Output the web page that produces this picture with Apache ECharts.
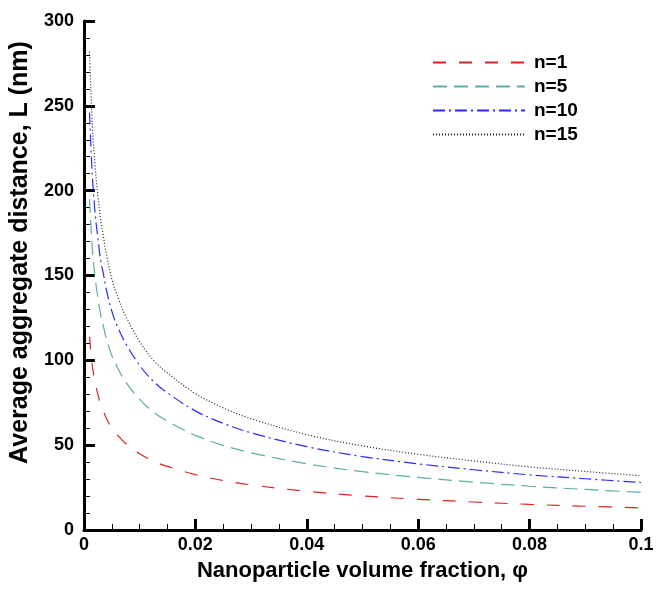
<!DOCTYPE html>
<html>
<head>
<meta charset="utf-8">
<script src="https://cdn.jsdelivr.net/npm/echarts@6/dist/echarts.min.js"></script>
<style>html,body{margin:0;padding:0;background:#fff}#c{width:657px;height:592px}</style>
</head>
<body>
<div id="c"></div>
<script>
var phi = [0.001,0.0015,0.002,0.0025,0.003,0.0035,0.004,0.005,0.006,0.0075,0.01,0.0125,0.015,0.02,0.025,0.03,0.04,0.05,0.06,0.07,0.08,0.09,0.1];
var n1  = [114,97,87,80,74,70,66,60,56,51,45,40.6,37.5,32.6,29.2,26.6,22.8,20.1,18.1,16.5,15.1,14.0,13.0];
var n5  = [195,166,149,137,127,120,113,103,95.8,87.2,77,69.4,64.1,55.8,49.9,45.5,39,34.4,31,28.2,25.8,23.9,22.2];
var n10 = [246,209,187,172,159,151,142,129,120,110,97,87.5,80.8,70.2,62.9,57.3,49.1,43.3,39,35.5,32.5,30.2,28];
var n15 = [282,239,215,197,183,173,163,148,138,126,111,100,92.5,80.4,72,65.6,56.2,49.6,44.6,40.7,37.2,34.5,32];
var seriesNames = ['n=1','n=5','n=10','n=15'];
var xTicks = {0:'0',0.02:'0.02',0.04:'0.04',0.06:'0.06',0.08:'0.08',0.1:'0.1'};

function pairs(ys){ return phi.map(function(x,i){return [x, ys[i]];}); }
var font = 'Liberation Sans, Arial, sans-serif';
var styles = [
  {color:'#dd2222', type:[13,13]},
  {color:'#5aaea8', type:[14,7]},
  {color:'#2a2aff', type:[12,4,2,4]},
  {color:'#222222', type:[1,2]}
];
var all = [n1,n5,n10,n15];
var chart = echarts.init(document.getElementById('c'), null, {renderer:'canvas'});
chart.setOption({
  animation:false,
  backgroundColor:'#fff',
  grid:{left:83, right:16, top:21, bottom:62, containLabel:false},
  legend:{
    orient:'vertical', left:427, top:48, itemWidth:92, itemHeight:14, itemGap:5,
    itemStyle:{opacity:0},
    textStyle:{fontFamily:font, fontWeight:'bold', fontSize:19, color:'#000', padding:[0,0,0,4]},
    data:seriesNames
  },
  xAxis:{
    type:'value', min:0, max:0.1, interval:0.02,
    name:'Nanoparticle volume fraction, \u03c6', nameLocation:'middle', nameGap:30,
    nameTextStyle:{fontFamily:font, fontWeight:'bold', fontSize:22, color:'#000'},
    axisLine:{onZero:false, lineStyle:{color:'#000', width:3}},
    axisTick:{inside:true, length:11, lineStyle:{width:3, color:'#000'}},
    minorTick:{show:true, splitNumber:4, length:6, lineStyle:{width:1, color:'#000'}},
    splitLine:{show:false},
    axisLabel:{fontFamily:font, fontWeight:'bold', fontSize:18, color:'#000', margin:6,
      formatter:function(v){ var k = Math.round(v*100)/100; return xTicks[k]!==undefined?xTicks[k]:''; }}
  },
  yAxis:{
    type:'value', min:0, max:300, interval:50,
    name:'Average aggregate distance, L (nm)', nameLocation:'middle', nameGap:41,
    nameTextStyle:{fontFamily:font, fontWeight:'bold', fontSize:25, color:'#000', padding:[0,0,0,46]},
    axisLine:{show:true, lineStyle:{color:'#000', width:3}},
    axisTick:{show:true, inside:true, length:11, lineStyle:{width:3, color:'#000'}},
    minorTick:{show:true, splitNumber:5, length:6, lineStyle:{width:1, color:'#000'}},
    splitLine:{show:false},
    axisLabel:{fontFamily:font, fontWeight:'bold', fontSize:18, color:'#000', margin:10}
  },
  series: all.map(function(d,i){
    return {
      name:seriesNames[i], type:'line', data:pairs(d), showSymbol:false, symbol:'none',
      smooth:0.35, clip:true,
      lineStyle:{color:styles[i].color, width:1.2, type:styles[i].type},
      itemStyle:{color:styles[i].color}
    };
  })
});
</script>
</body>
</html>
